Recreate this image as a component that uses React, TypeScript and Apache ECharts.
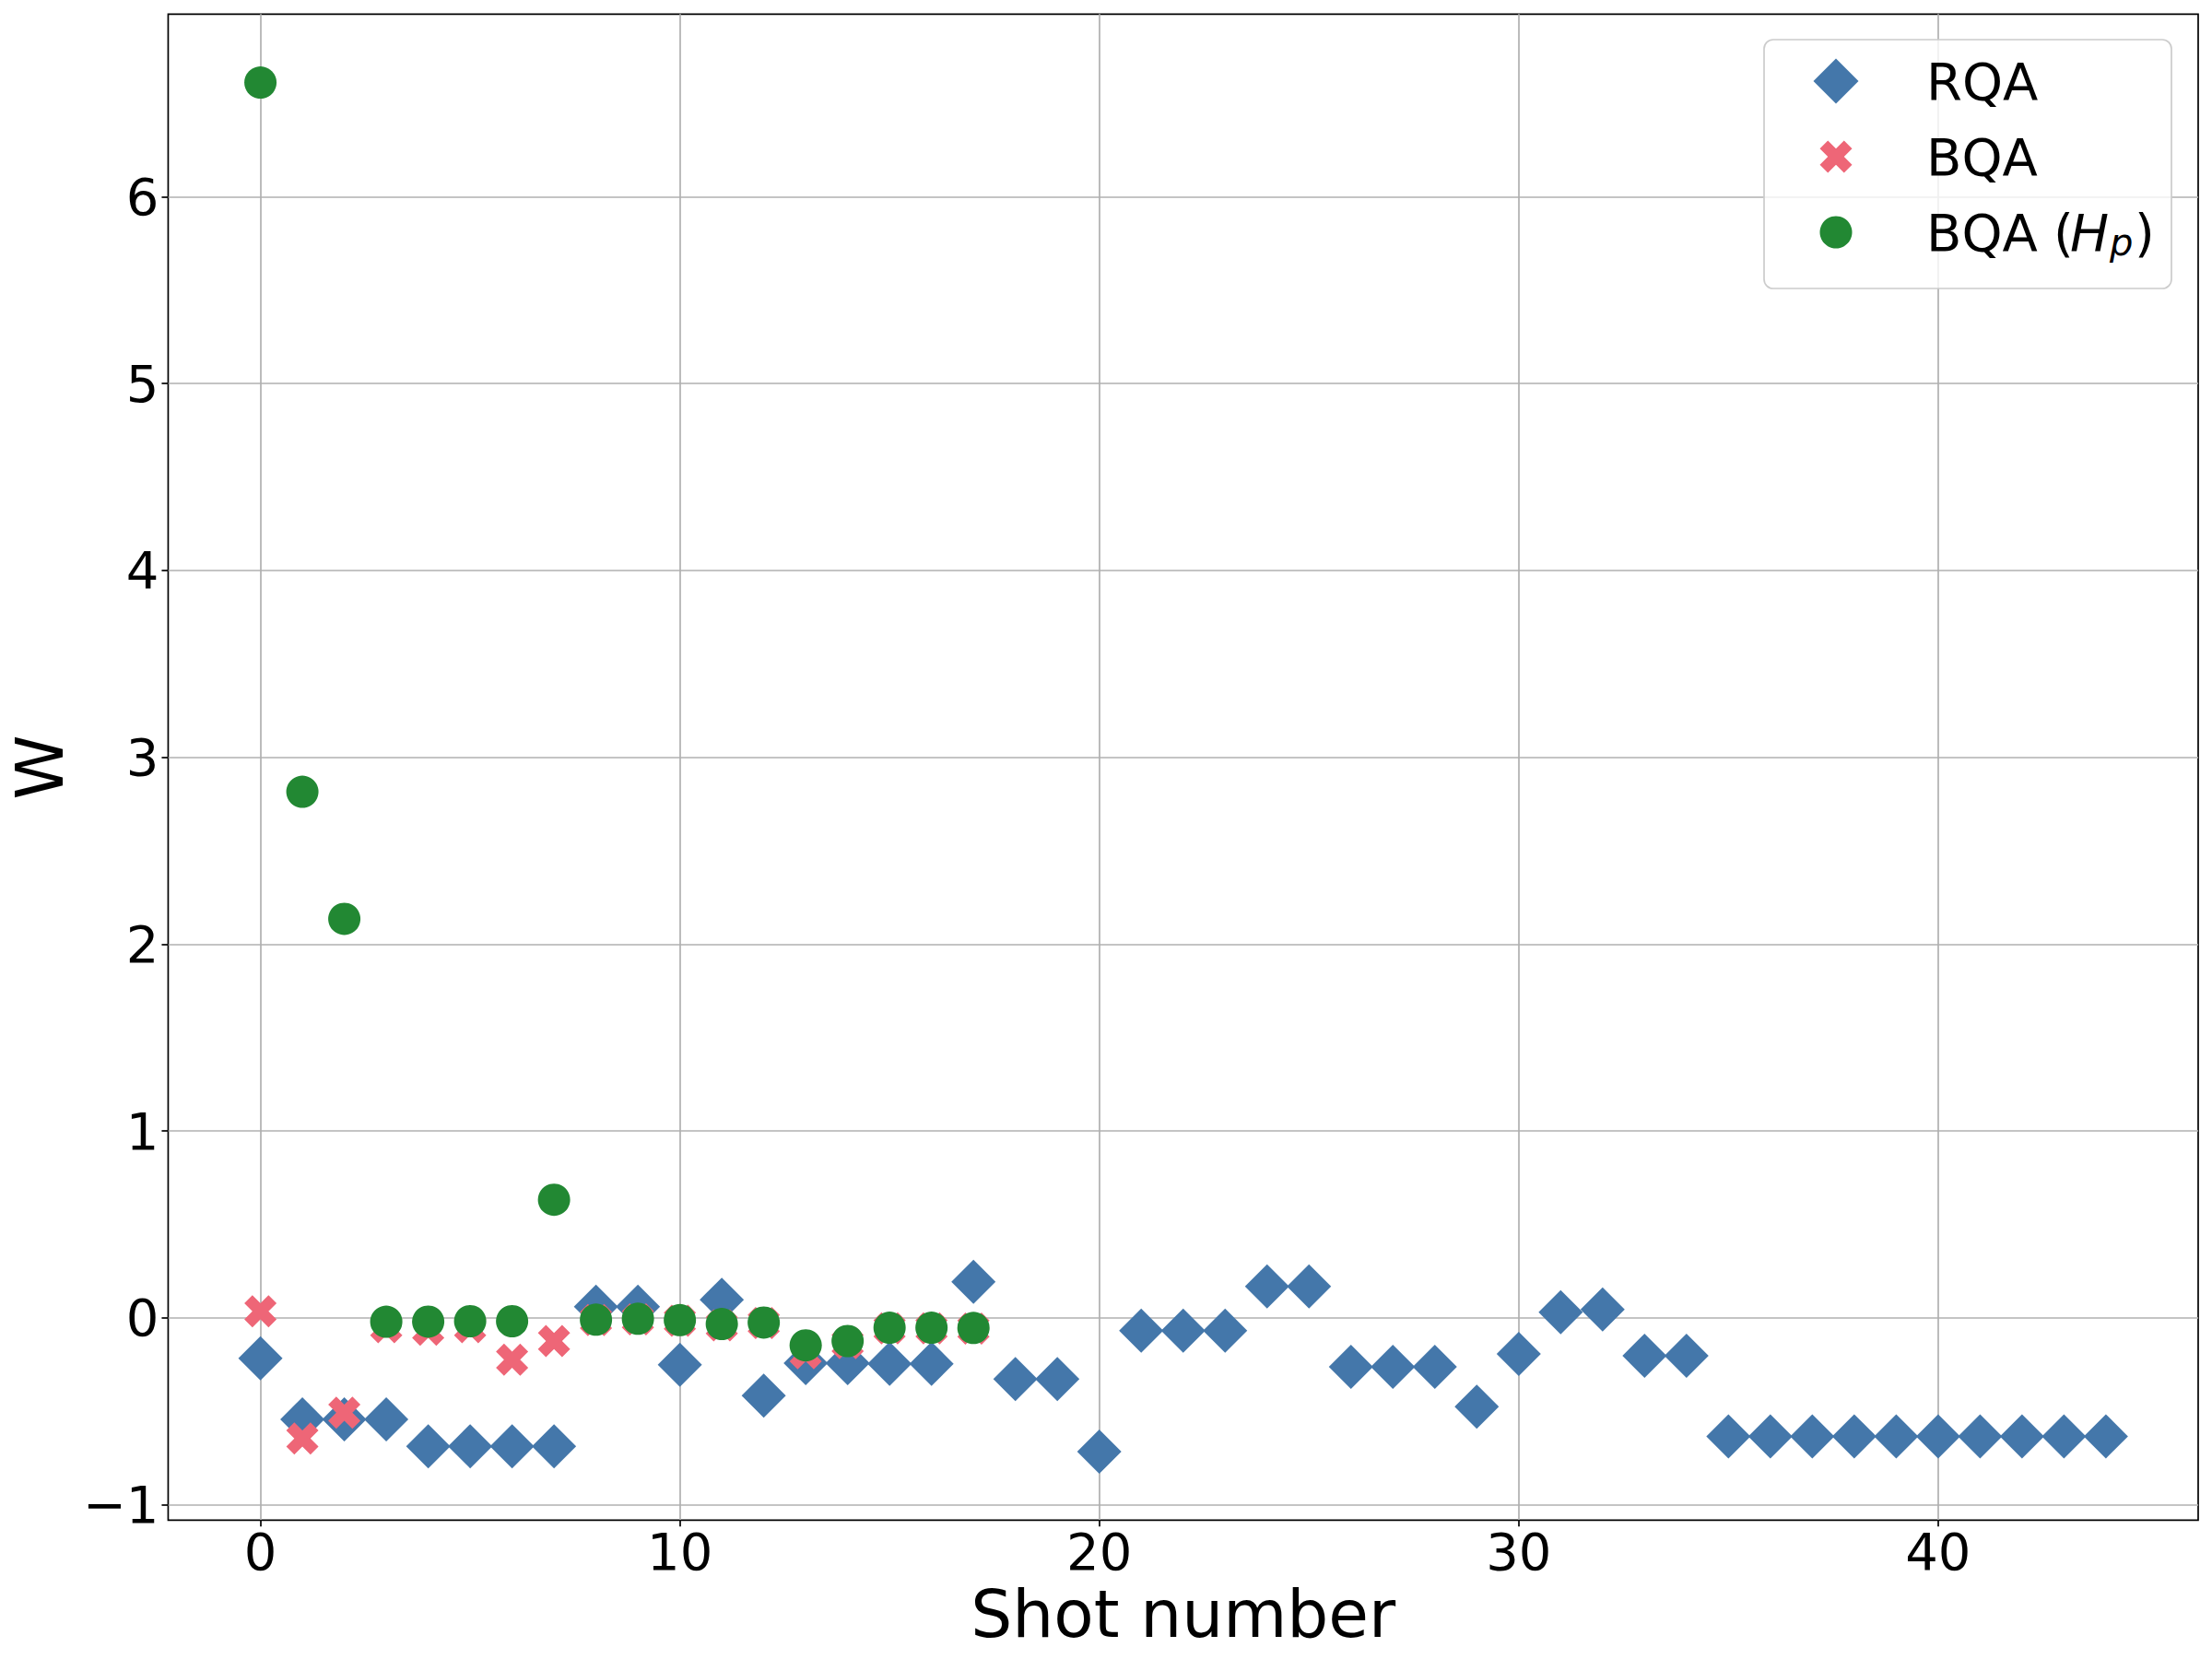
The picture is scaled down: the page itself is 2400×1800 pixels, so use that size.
import React, { useEffect, useRef } from "react";
import * as echarts from "echarts";

// ---------- data ----------
const shotNumbers = [
  0, 1, 2, 3, 4, 5, 6, 7, 8, 9, 10, 11, 12, 13, 14, 15, 16, 17, 18, 19, 20, 21, 22,
  23, 24, 25, 26, 27, 28, 29, 30, 31, 32, 33, 34, 35, 36, 37, 38, 39, 40, 41, 42, 43, 44,
];

const rqaValues = [
  -0.217, -0.543, -0.543, -0.543, -0.687, -0.687, -0.687, -0.687, 0.06, 0.06,
  -0.251, 0.097, -0.416, -0.243, -0.243, -0.246, -0.246, 0.193, -0.328, -0.328,
  -0.716, -0.069, -0.069, -0.069, 0.168, 0.168, -0.262, -0.262, -0.262, -0.475,
  -0.193, 0.03, 0.045, -0.203, -0.203, -0.634, -0.634, -0.634, -0.634, -0.634,
  -0.634, -0.634, -0.634, -0.634, -0.634,
];

const bqaValues = [
  0.035, -0.646, -0.507, -0.05, -0.064, -0.05, -0.224, -0.124, -0.012, -0.008,
  -0.016, -0.04, -0.028, -0.19, -0.135, -0.056, -0.056, -0.057,
];

const bqaHpValues = [
  6.61, 2.815, 2.135, -0.021, -0.02, -0.018, -0.018, 0.632, -0.01, -0.005,
  -0.012, -0.033, -0.025, -0.147, -0.124, -0.053, -0.053, -0.054,
];

const xTickValues = [0, 10, 20, 30, 40];
const yTickValues = [-1, 0, 1, 2, 3, 4, 5, 6];

const seriesNames = ["RQA", "BQA", "BQA (Hp)"];

// ---------- styling ----------
const FONT = "DejaVu Sans";
const BLUE = "#4477AA";
const RED = "#EE6677";
const GREEN = "#228833";

// filled "X" marker (a plus rotated by 45 degrees), in an 8x8 box
const xPts: [number, number][] = [
  [6, 0], [8, 2], [6, 4], [8, 6], [6, 8], [4, 6], [2, 8], [0, 6], [2, 4], [0, 2], [2, 0], [4, 2],
];
const xPath =
  "path://" + xPts.map((p, i) => (i === 0 ? "M" : "L") + p[0] + "," + p[1]).join(" ") + " Z";

function pairs(values: number[]) {
  return values.map((v, i) => [shotNumbers[i], v]);
}

// matplotlib-like 5% autoscale margins
function marginRange(vals: number[]) {
  const mn = Math.min(...vals);
  const mx = Math.max(...vals);
  const r = mx - mn;
  return [mn - 0.05 * r, mx + 0.05 * r];
}

export default function App() {
  const ref = useRef<HTMLDivElement>(null);

  useEffect(() => {
    if (!ref.current) return;
    const chart = echarts.init(ref.current, null, { renderer: "svg" });

    const [xMin, xMax] = marginRange(shotNumbers);
    const [yMin, yMax] = marginRange([...rqaValues, ...bqaValues, ...bqaHpValues]);

    // legend (drawn as graphic for exact marker sizes)
    const lx = 1992;
    const rows = [88, 170, 252];
    const dHalf = 24.5;
    const xHalf = 17.5;
    const legendGraphics: any[] = [
      {
        type: "rect",
        z: 100,
        shape: { x: 1914, y: 43, width: 442, height: 270, r: 10 },
        style: { fill: "rgba(255,255,255,0.8)", stroke: "#cccccc", lineWidth: 1.7 },
      },
      {
        type: "polygon",
        z: 101,
        shape: {
          points: [
            [lx, rows[0] - dHalf],
            [lx + dHalf, rows[0]],
            [lx, rows[0] + dHalf],
            [lx - dHalf, rows[0]],
          ],
        },
        style: { fill: BLUE },
      },
      {
        type: "polygon",
        z: 101,
        shape: {
          points: xPts.map((p) => [lx + ((p[0] - 4) / 4) * xHalf, rows[1] + ((p[1] - 4) / 4) * xHalf]),
        },
        style: { fill: RED },
      },
      {
        type: "circle",
        z: 101,
        shape: { cx: lx, cy: rows[2], r: 17.5 },
        style: { fill: GREEN },
      },
    ];
    const txt = (text: string, x: number, y: number, size: number, italic = false) => ({
      type: "text",
      z: 101,
      x,
      y,
      style: {
        text,
        fontSize: size,
        fontFamily: FONT,
        fontStyle: italic ? "italic" : "normal",
        fill: "#000",
        align: "left",
        verticalAlign: "middle",
        textAlign: "left",
        textVerticalAlign: "middle",
      },
    });
    legendGraphics.push(txt(seriesNames[0], 2090, rows[0], 56));
    legendGraphics.push(txt(seriesNames[1], 2090, rows[1], 56));
    legendGraphics.push(txt("BQA", 2090, rows[2], 56));
    legendGraphics.push(txt("(", 2228, rows[2], 56));
    legendGraphics.push(txt("H", 2246, rows[2], 56, true));
    legendGraphics.push(txt("p", 2289, rows[2] + 11, 40, true));
    legendGraphics.push(txt(")", 2316, rows[2], 56));

    const axisCommon = {
      type: "value",
      axisLine: { show: false, onZero: false },
      axisTick: { show: true, length: 7, lineStyle: { color: "#000", width: 1.7 } },
      splitLine: { show: true, lineStyle: { color: "#b0b0b0", width: 1.7 } },
      nameLocation: "middle",
      nameTextStyle: { fontSize: 71, color: "#000", fontFamily: FONT },
    };

    chart.setOption({
      animation: false,
      backgroundColor: "#ffffff",
      textStyle: { fontFamily: FONT },
      grid: {
        left: 179.3,
        right: 15,
        top: 15.3,
        bottom: 150.7,
        show: true,
        borderColor: "#000",
        borderWidth: 1.7,
        backgroundColor: "transparent",
      },
      xAxis: {
        ...axisCommon,
        min: xMin,
        max: xMax,
        name: "Shot number",
        nameGap: 61,
        axisTick: { ...axisCommon.axisTick, customValues: xTickValues },
        axisLabel: { customValues: xTickValues, fontSize: 56, color: "#000", margin: 6, fontFamily: FONT },
      },
      yAxis: {
        ...axisCommon,
        min: yMin,
        max: yMax,
        name: "W",
        nameRotate: 90,
        nameGap: 100,
        axisTick: { ...axisCommon.axisTick, customValues: yTickValues },
        axisLabel: {
          customValues: yTickValues,
          fontSize: 56,
          color: "#000",
          margin: 10,
          fontFamily: FONT,
          formatter: (v: number) => (v < 0 ? "\u2212" + Math.abs(v) : String(v)),
        },
      },
      series: [
        {
          name: seriesNames[0],
          type: "scatter",
          symbol: "diamond",
          symbolSize: 48,
          itemStyle: { color: BLUE, opacity: 1 },
          data: pairs(rqaValues),
        },
        {
          name: seriesNames[1],
          type: "scatter",
          symbol: xPath,
          symbolSize: 35,
          itemStyle: { color: RED, opacity: 1 },
          data: pairs(bqaValues),
        },
        {
          name: seriesNames[2],
          type: "scatter",
          symbol: "circle",
          symbolSize: 35,
          itemStyle: { color: GREEN, opacity: 1 },
          data: pairs(bqaHpValues),
        },
      ],
      graphic: legendGraphics,
    });

    return () => chart.dispose();
  }, []);

  return (
    <div
      ref={ref}
      style={{ position: "absolute", left: 0, top: 0, width: 2400, height: 1800, background: "#fff" }}
    />
  );
}
